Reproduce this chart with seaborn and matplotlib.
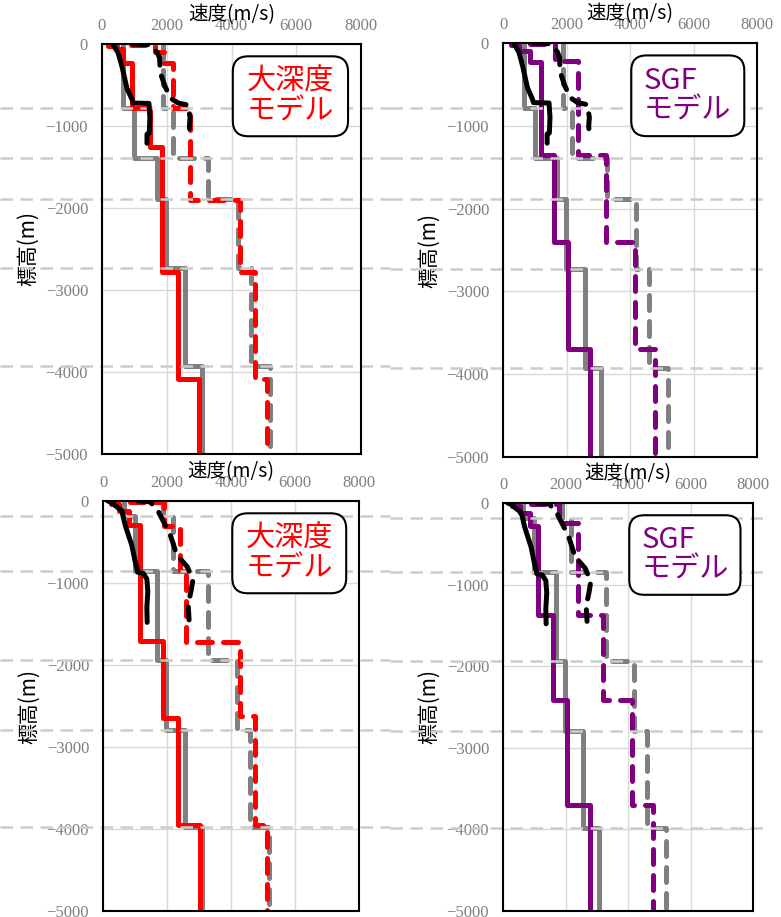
import numpy as np
import pandas as pd
import matplotlib
matplotlib.use("Agg")
import matplotlib.pyplot as plt
from matplotlib.patches import FancyBboxPatch
import seaborn as sns

# ---------------- data: depth (m, positive down), velocity (m/s) ----------------
# reference model (gray): same velocities at both sites, different layer tops
ref_vs = [650, 1000, 1700, 1980, 2570, 3080]
ref_vp = [1880, 2180, 3280, 4200, 4600, 5200]
ref_tops_upper = [0, 780, 1390, 1890, 2730, 3930]
ref_tops_lower = [0, 180, 850, 1940, 2790, 3980]

# 大深度モデル (red)
deep_up_tops_s = [0, 20, 60, 230, 780, 1250, 2780, 4080]
deep_up_vs = [200, 450, 650, 920, 1480, 1850, 2350, 3000]
deep_up_tops_p = [0, 10, 100, 230, 780, 1900, 2780, 4080]
deep_up_vp = [900, 1650, 1900, 2180, 2720, 4260, 4730, 5100]
deep_lo_tops_s = [0, 40, 120, 290, 1710, 2650, 3950]
deep_lo_vs = [250, 500, 800, 1160, 1880, 2350, 3030]
deep_lo_tops_p = [0, 15, 300, 840, 1720, 2620, 3950]
deep_lo_vp = [850, 1900, 2400, 2600, 4280, 4750, 5120]

# SGFモデル (purple)
sgf_up_tops_s = [0, 30, 100, 230, 1350, 2400, 3690]
sgf_up_vs = [250, 500, 850, 1200, 1600, 2050, 2740]
sgf_up_tops_p = [0, 15, 220, 1350, 2400, 3690]
sgf_up_vp = [850, 1640, 2360, 3240, 4160, 4790]
sgf_lo_tops_s = [0, 40, 120, 280, 1370, 2410, 3700]
sgf_lo_vs = [300, 550, 850, 1130, 1600, 2050, 2780]
sgf_lo_tops_p = [0, 15, 250, 1370, 2410, 3700]
sgf_lo_vp = [900, 1800, 2400, 3200, 4130, 4800]

# well logs (black)
log_up_depth_s = [0, 12, 110, 280, 540, 680, 720, 725, 900, 1085, 1100, 1210]
log_up_vs = [330, 350, 500, 620, 770, 930, 960, 1450, 1480, 1460, 1390, 1390]
log_up_depth_p = [0, 10, 100, 170, 350, 520, 660, 720, 745, 900, 1000, 1150]
log_up_vp = [950, 1480, 1700, 1780, 1800, 1950, 2120, 2350, 2660, 2720, 2700, 2720]
log_lo_depth_s = [0, 15, 120, 290, 540, 730, 870, 880, 950, 1100, 1300, 1480]
log_lo_vs = [150, 250, 590, 690, 900, 1000, 1090, 1250, 1370, 1400, 1370, 1380]
log_lo_depth_p = [0, 10, 100, 400, 660, 800, 960, 1100, 1260, 1450]
log_lo_vp = [1090, 1470, 1690, 2090, 2310, 2630, 2810, 2750, 2660, 2690]

x_ticks = [0, 2000, 4000, 6000, 8000]
y_ticks = [0, -1000, -2000, -3000, -4000, -5000]
model_bottom = 5000


def steps(tops, vals):
    bots = list(tops[1:]) + [model_bottom]
    xs, ys = [], []
    for t, b, v in zip(tops, bots, vals):
        xs += [v, v]
        ys += [-t, -b]
    return pd.DataFrame({"v": xs, "z": ys})


def curve(depth, vals):
    return pd.DataFrame({"v": vals, "z": [-d for d in depth]})


sns.set_theme(style="white")
plt.rcParams["font.family"] = ["Noto Sans CJK JP", "DejaVu Sans"]

W, H = 781, 917
fig = plt.figure(figsize=(W / 100, H / 100), dpi=100)

LW = 3.6
DASH = (0, (3.0, 2.2))
GRAY = "#808080"

panels = [
    dict(px=(102, 44, 361, 454), tops=ref_tops_upper, color="#ff0000", name="大深度\nモデル",
         ms=(deep_up_tops_s, deep_up_vs), mp=(deep_up_tops_p, deep_up_vp),
         ls=(log_up_depth_s, log_up_vs), lp=(log_up_depth_p, log_up_vp), hx=(0, 390)),
    dict(px=(503, 43, 757, 457), tops=ref_tops_upper, color="#800080", name="SGF\nモデル",
         ms=(sgf_up_tops_s, sgf_up_vs), mp=(sgf_up_tops_p, sgf_up_vp),
         ls=(log_up_depth_s, log_up_vs), lp=(log_up_depth_p, log_up_vp), hx=(390, 765)),
    dict(px=(103, 501, 359, 911), tops=ref_tops_lower, color="#ff0000", name="大深度\nモデル",
         ms=(deep_lo_tops_s, deep_lo_vs), mp=(deep_lo_tops_p, deep_lo_vp),
         ls=(log_lo_depth_s, log_lo_vs), lp=(log_lo_depth_p, log_lo_vp), hx=(0, 390)),
    dict(px=(503, 503, 753, 911), tops=ref_tops_lower, color="#800080", name="SGF\nモデル",
         ms=(sgf_lo_tops_s, sgf_lo_vs), mp=(sgf_lo_tops_p, sgf_lo_vp),
         ls=(log_lo_depth_s, log_lo_vs), lp=(log_lo_depth_p, log_lo_vp), hx=(390, 765)),
]

for p in panels:
    x0, y0, x1, y1 = p["px"]
    ax = fig.add_axes([x0 / W, 1 - y1 / H, (x1 - x0) / W, (y1 - y0) / H])

    # reference model (gray)
    sns.lineplot(data=steps(p["tops"], ref_vs), x="v", y="z", sort=False, estimator=None,
                 color=GRAY, lw=LW, ax=ax, zorder=3)
    sns.lineplot(data=steps(p["tops"], ref_vp), x="v", y="z", sort=False, estimator=None,
                 color=GRAY, lw=LW, linestyle=DASH, dash_capstyle="round", ax=ax, zorder=3)
    # model
    sns.lineplot(data=steps(*p["ms"]), x="v", y="z", sort=False, estimator=None,
                 color=p["color"], lw=LW, ax=ax, zorder=4)
    sns.lineplot(data=steps(*p["mp"]), x="v", y="z", sort=False, estimator=None,
                 color=p["color"], lw=LW, linestyle=DASH, dash_capstyle="round", ax=ax, zorder=4)
    # layer boundaries of the reference model
    frac0 = (p["hx"][0] - x0) / (x1 - x0)
    frac1 = (p["hx"][1] - x0) / (x1 - x0)
    for d in p["tops"][1:]:
        ax.axhline(-d, frac0, frac1, color="#cccccc", lw=1.8, ls=(0, (5, 3)),
                   clip_on=False, zorder=5)
    # well logs
    sns.lineplot(data=curve(*p["ls"]), x="v", y="z", sort=False, estimator=None,
                 color="black", lw=LW, ax=ax, zorder=6)
    sns.lineplot(data=curve(*p["lp"]), x="v", y="z", sort=False, estimator=None,
                 color="black", lw=LW, linestyle=DASH, dash_capstyle="round", ax=ax, zorder=6)

    ax.set_xlim(0, 8000)
    ax.set_ylim(-5000, 0)
    ax.xaxis.tick_top()
    ax.xaxis.set_label_position("top")
    ax.set_xticks(x_ticks, [str(t) for t in x_ticks])
    ax.set_yticks(y_ticks, [str(t).replace("-", "\u2212") for t in y_ticks])
    ax.tick_params(length=0, labelcolor="#7f7f7f", labelsize=12)
    ax.tick_params(axis="x", pad=7)
    ax.tick_params(axis="y", pad=10)
    plt.setp(ax.get_xticklabels() + ax.get_yticklabels(),
             fontfamily=["Liberation Serif", "DejaVu Serif"])
    ax.set_xlabel("速度(m/s)", fontsize=14, labelpad=-1, color="black")
    ax.set_ylabel("標高(m)", fontsize=15, labelpad=5, color="black")
    ax.grid(True, color="#d9d9d9", lw=1)
    for s in ax.spines.values():
        s.set_color("black")
        s.set_linewidth(1.5)
        s.set_zorder(7)

    # label box
    aspect = (x1 - x0) / (y1 - y0)
    box = FancyBboxPatch((0.505, 0.775), 0.445, 0.195, transform=ax.transAxes,
                         boxstyle="round,pad=0,rounding_size=0.06", mutation_aspect=aspect,
                         fc="white", ec="black", lw=1.5, zorder=8, clip_on=False)
    ax.add_patch(box)
    ax.text(0.505 + 0.445 / 2, 0.775 + 0.195 / 2, p["name"], transform=ax.transAxes,
            ha="center", va="center", multialignment="left", fontsize=21,
            color=p["color"], linespacing=1.0, zorder=9)

fig.savefig("out.png", dpi=100)
